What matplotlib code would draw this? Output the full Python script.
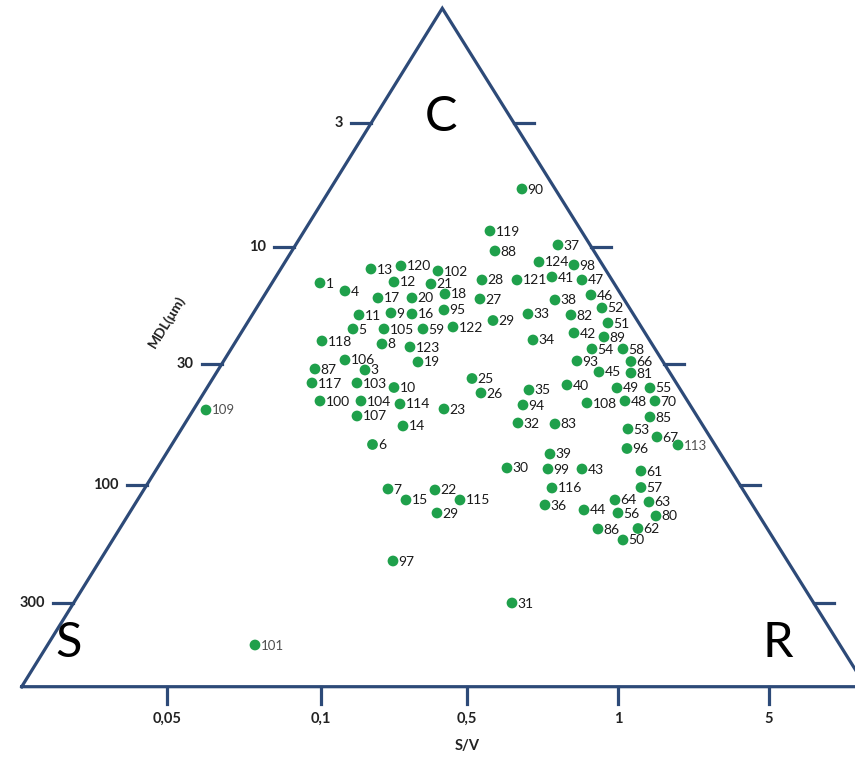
import numpy as np
import matplotlib.pyplot as plt

plt.rcParams['font.family'] = ['Lato', 'DejaVu Sans']

# species ids and their position in the chart (chart units, y grows downward)
ids = [1, 3, 4, 5, 6, 7, 8, 9, 10, 11, 12, 13, 14, 15, 16, 17, 18, 19, 20, 21,
       22, 23, 25, 26, 27, 28, 29, 29, 30, 31, 32, 33, 34, 35, 36, 37, 38, 39, 40, 41,
       42, 43, 44, 45, 46, 47, 48, 49, 50, 51, 52, 53, 54, 55, 56, 57, 58, 59, 61, 62,
       63, 64, 66, 67, 70, 80, 81, 82, 83, 85, 86, 87, 88, 89, 90, 93, 94, 95, 96, 97,
       98, 99, 100, 101, 102, 103, 104, 105, 106, 107, 108, 109, 113, 114, 115, 116, 117, 118, 119, 120,
       121, 122, 123, 124]
x_pos = [320, 365, 345, 353, 372.5, 388, 382, 391, 394, 359, 394, 371, 403, 406, 412, 378, 445, 418, 412, 431,
         435, 444, 472, 481, 480, 482, 493, 437, 507, 512, 518, 528, 533, 529, 545, 558, 555, 550, 567, 552,
         574, 582, 584, 599, 591, 582, 625, 617, 623, 608, 602, 628, 592, 650, 618, 641, 623, 423, 641, 638,
         649, 615, 631, 657, 655, 656, 631, 571, 555, 650, 598, 315, 495, 604, 522, 577, 523, 444, 627, 393,
         574, 548, 320, 255, 438, 357, 361, 384, 345, 357, 587, 206, 678, 400, 460, 552, 312, 322, 490, 401,
         517, 453, 410, 539]
y_pos = [283, 370, 291, 329, 444.5, 489, 344, 313, 387.5, 315, 282, 269, 426, 500, 314, 298, 294, 362, 298, 284,
         490, 409, 378.5, 393, 299, 280, 320.5, 513, 468, 603, 423, 314, 340, 390, 505, 245, 300, 454, 385, 277,
         333, 469, 510, 372, 295, 280, 401, 388, 540, 323, 308, 429, 349, 388, 513, 487.5, 349, 329, 471, 528.5,
         502, 500, 361.5, 437, 401, 516, 373, 315, 424, 417, 529, 369, 251, 337, 189, 361, 405, 310, 448.5, 561,
         265, 469, 401, 645, 271, 383, 401, 329, 360, 416, 403, 410, 445, 404, 500, 488, 383, 341, 231, 266,
         280, 327, 347, 262]
faint_ids = [101, 109, 113]

mdl_labels = ['3', '10', '30', '100', '300']
sv_labels = ['0,05', '0,1', '0,5', '1', '5']

# layout
apex = (442.3, 8.3)
left = (21.7, 686.7)
right = (866, 686.7)
mdl_tick_y = [122.7, 247, 364, 485, 603.3]
sv_tick_x = [167, 321, 467, 618, 769]
line_c = '#2d4a78'
dot_c = '#1fa04b'


def edge_x(p0, p1, y):
    return p0[0] + (p1[0] - p0[0]) * (y - p0[1]) / (p1[1] - p0[1])


fig = plt.figure(figsize=(8.55, 7.63), dpi=100)
ax = fig.add_axes([0, 0, 1, 1])
ax.set_xlim(0, 855)
ax.set_ylim(763, 0)
ax.axis('off')

ax.plot([left[0], apex[0], right[0], left[0]], [left[1], apex[1], right[1], left[1]],
        color=line_c, lw=2.3, solid_joinstyle='miter', zorder=2)

for y, lab in zip(mdl_tick_y, mdl_labels):
    xl = edge_x(apex, left, y)
    xr = edge_x(apex, right, y)
    ax.plot([xl - 20, xl], [y, y], color=line_c, lw=2.3)
    ax.plot([xr, xr + 20], [y, y], color=line_c, lw=2.3)
    ax.text(xl - 28, y, lab, ha='right', va='center', fontsize=10.5, fontweight='bold', color='#222222')

for x, lab in zip(sv_tick_x, sv_labels):
    ax.plot([x, x], [left[1], left[1] + 17], color=line_c, lw=2.3)
    ax.text(x, 719, lab, ha='center', va='center', fontsize=10.5, fontweight='bold', color='#222222')

ax.text(467, 746, 'S/V', ha='center', va='center', fontsize=10.5, fontweight='bold', color='#222222')
ax.text(167, 322, 'MDL(μm)', ha='center', va='center', rotation=58.5, fontsize=10,
        fontweight='bold', color='#222222')

ax.text(441, 117, 'C', ha='center', va='center', fontsize=35, color='black')
ax.text(69, 643, 'S', ha='center', va='center', fontsize=35, color='black')
ax.text(778, 643, 'R', ha='center', va='center', fontsize=35, color='black')

ax.scatter(x_pos, y_pos, s=60, color=dot_c, edgecolors='none', zorder=3)
for i, x, y in zip(ids, x_pos, y_pos):
    if i in faint_ids:
        ax.text(x + 6, y + 0.5, str(i), ha='left', va='center', fontsize=9.5, color='#505050')
    else:
        ax.text(x + 5.5, y + 0.5, str(i), ha='left', va='center', fontsize=10, color='#1a1a1a')

fig.savefig('out.png', dpi=100)
